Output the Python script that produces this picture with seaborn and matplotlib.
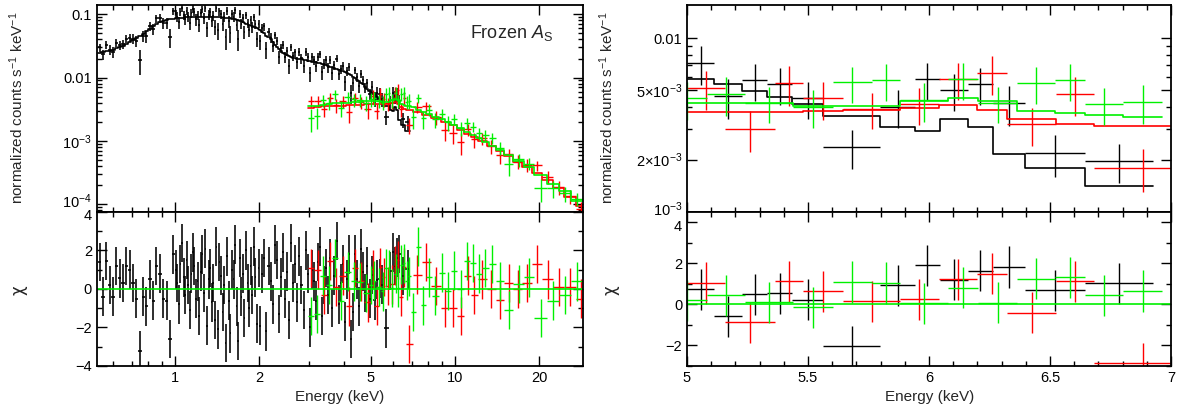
"""
Broad-band spectrum with residuals (left) and a 5-7 keV zoom (right).
"""

import numpy as np
import matplotlib
matplotlib.use('Agg')
import matplotlib.pyplot as plt
import matplotlib.ticker as mticker
import matplotlib.transforms as mtrans
import seaborn as sns

sns.set_theme(style='ticks')
plt.rcParams['font.family'] = ['Liberation Sans', 'DejaVu Sans']
plt.rcParams['mathtext.fontset'] = 'custom'
plt.rcParams['mathtext.rm'] = 'Liberation Sans'
plt.rcParams['mathtext.it'] = 'Liberation Sans:italic'
plt.rcParams['axes.linewidth'] = 1.1

BLACK, RED, GREEN = '#000000', '#ff0000', '#00f000'

# ─────────────────────────────────────────────
# DATA
# ─────────────────────────────────────────────

# black spectrum below 5 keV: bin edges (keV), model (counts/s/keV), chi
black_lo_edges = [
    0.530, 0.545, 0.560, 0.576, 0.592, 0.608, 0.625, 0.643, 0.661, 0.679, 0.698, 0.718,
    0.738, 0.759, 0.780, 0.801, 0.824, 0.847, 0.870, 0.895, 0.920, 0.946, 0.972, 1.000,
    1.013, 1.026, 1.039, 1.053, 1.066, 1.080, 1.094, 1.108, 1.122, 1.137, 1.151, 1.166,
    1.181, 1.197, 1.212, 1.228, 1.244, 1.260, 1.276, 1.292, 1.309, 1.326, 1.343, 1.361,
    1.378, 1.396, 1.414, 1.432, 1.451, 1.470, 1.489, 1.508, 1.527, 1.547, 1.567, 1.587,
    1.608, 1.629, 1.650, 1.671, 1.693, 1.715, 1.737, 1.759, 1.782, 1.805, 1.828, 1.852,
    1.876, 1.900, 1.925, 1.950, 1.975, 2.000,
    2.034, 2.069, 2.104, 2.140, 2.177, 2.214, 2.252, 2.290, 2.330, 2.369, 2.410, 2.451,
    2.493, 2.536, 2.579, 2.623, 2.668, 2.714, 2.760, 2.807, 2.855, 2.904, 2.954, 3.004,
    3.056, 3.108, 3.161, 3.215, 3.270, 3.326, 3.383, 3.441, 3.499, 3.559, 3.620, 3.682,
    3.745, 3.809, 3.874, 3.940, 4.008, 4.076, 4.146, 4.217, 4.289, 4.362, 4.437, 4.513,
    4.590, 4.668, 4.748, 4.829, 4.912, 5.000]
black_lo_model = [
    0.024, 0.025, 0.026, 0.0265, 0.027, 0.029, 0.030, 0.032, 0.034, 0.036, 0.039, 0.042,
    0.045, 0.049, 0.054, 0.059, 0.065, 0.071, 0.076, 0.079, 0.081, 0.083, 0.085,
    0.086, 0.0865, 0.087, 0.0875, 0.088, 0.0885, 0.089, 0.089, 0.0895, 0.090,
    0.090, 0.0905, 0.0905, 0.091, 0.091, 0.091, 0.091, 0.091, 0.091, 0.091,
    0.091, 0.0905, 0.0905, 0.090, 0.090, 0.090, 0.0895, 0.0895, 0.089, 0.089,
    0.0885, 0.088, 0.0875, 0.087, 0.0865, 0.086, 0.085, 0.084, 0.083, 0.082,
    0.080, 0.079, 0.077, 0.075, 0.073, 0.071, 0.069, 0.068, 0.067, 0.066,
    0.064, 0.063, 0.061, 0.059,
    0.057, 0.053, 0.050, 0.046, 0.043, 0.040, 0.037, 0.033, 0.030, 0.028,
    0.026, 0.0245, 0.0232, 0.0224, 0.0217, 0.0212, 0.0207, 0.0203, 0.0200, 0.0197,
    0.0194, 0.0191, 0.0188, 0.0185, 0.0182, 0.0179, 0.0176, 0.0173, 0.0170, 0.0167,
    0.0164, 0.0160, 0.0157, 0.0153, 0.0149, 0.0145, 0.0141, 0.0137, 0.0133, 0.0129,
    0.0125, 0.0121, 0.0117, 0.0112, 0.0108, 0.0103, 0.0098, 0.0093, 0.0088, 0.0083,
    0.0078, 0.0072, 0.0067, 0.0061]
black_lo_chi = [
    1.4, -0.4, 1.45, 0.2, -0.4, 1.2, 0.55, 0.3, 1.2, 1.0, 0.3, -0.5, -3.2, -0.4, -0.9, 0.5,
    -0.6, 1.2, 0.8, -0.5, -0.6, -2.6, 1.8,
    1.0, 0.3, -0.8, 1.3, 2.4, 0.6, -0.3, 1.5, 0.2, -1.1,
    0.8, 1.9, 1.2, -0.5, 0.4, -1.4, 0.9, 1.8, -0.2, 2.1,
    -1.9, 0.5, 1.1, -0.7, 0.3, -1.6, 2.2, -2.1, 1.4, 0.7,
    -1.2, 0.2, -2.8, 1.7, -0.6, -2.3, 1.0, 0.5, 2.3, -0.9,
    -2.7, 1.6, -0.4, 0.8, -1.5, 2.0, 0.3, -1.0, 1.2, -0.3,
    2.2, 0.6, -1.8, 1.1,
    -1.9, 0.8, 1.6, -2.2, 1.2, 0.4, -0.8, 2.3, 1.5, -1.3,
    0.6, 1.9, -0.5, 0.9, -1.6, 2.4, 0.3, 1.3, -0.7, 1.7,
    0.2, -1.1, 2.0, 0.8, -2.0, 1.0, 0.4, -0.6, 1.4, 2.2,
    -1.4, 0.2, 1.1, -0.3, 1.6, -1.0, 0.7, 2.5, -0.8, 0.3,
    1.3, -1.7, 0.5, 1.8, -2.6, -1.2, 1.8, 0.5, -0.9, 2.1,
    0.9, -0.2, 1.2, -0.5]

# black spectrum, iron band 5-7 keV
fe_black_edges = [5.000, 5.112, 5.227, 5.331, 5.434, 5.562, 5.798, 5.942, 6.045, 6.161,
                  6.264, 6.397, 6.645, 6.926]
fe_black_flux = [0.00716, 0.00464, 0.00574, 0.00542, 0.00452, 0.00236, 0.00403, 0.00579,
                 0.00502, 0.00542, 0.00423, 0.00219, 0.00197]
fe_black_err = [0.0018, 0.0012, 0.0014, 0.0013, 0.0011, 0.0006, 0.0010, 0.0014, 0.0012,
                0.0013, 0.0011, 0.0006, 0.0005]
fe_black_model = [0.00579, 0.00542, 0.00498, 0.00460, 0.00418, 0.00356, 0.00307, 0.00293,
                  0.00342, 0.00307, 0.00215, 0.00178, 0.00141]
fe_black_chi = [0.73, -0.59, 0.49, 0.54, 0.22, -2.05, 0.93, 1.9, 1.2, 1.63, 1.82, 0.68, 1.02]

# red spectrum
red_lo_edges = [2.98, 3.15, 3.32, 3.50, 3.68, 3.87, 4.07, 4.29, 4.51, 4.75, 5.00]
red_lo_model = [0.0033, 0.0034, 0.0035, 0.0035, 0.0036, 0.0036, 0.0037, 0.0037, 0.0037, 0.0038]
red_lo_chi = [1.1, 1.0, -0.3, 1.45, 0.1, 0.7, -0.9, 1.1, 0.4, -0.7]
fe_red_edges = [5.000, 5.157, 5.364, 5.479, 5.645, 5.880, 6.041, 6.198, 6.322, 6.525,
                6.682, 7.087]
fe_red_flux = [0.00514, 0.00300, 0.00549, 0.00450, 0.00391, 0.00418, 0.00579, 0.00632,
               0.00319, 0.00477, 0.00180]
fe_red_err = [0.0013, 0.0008, 0.0014, 0.0011, 0.0009, 0.0010, 0.0014, 0.0016, 0.0008,
              0.0012, 0.0005]
fe_red_model = [0.00376, 0.00376, 0.00378, 0.00381, 0.00386, 0.00394, 0.00412, 0.00386,
                0.00341, 0.00321, 0.00312]
fe_red_chi = [1.04, -0.87, 1.12, 0.63, 0.16, 0.24, 1.22, 1.5, -0.4, 1.12, -2.86]
red_hi_edges = [7.087, 7.6, 8.2, 8.9, 9.5, 10.2, 10.8, 11.4, 12.1, 13.0, 14.0, 15.0, 16.2,
                17.4, 18.8, 20.5, 22.5, 24.6, 27.0, 29.5]
red_hi_model = [0.0029, 0.0026, 0.0023, 0.0020, 0.0018, 0.0015, 0.0013, 0.00115, 0.00098,
                0.00082, 0.00069, 0.00057, 0.00047, 0.00039, 0.00031, 0.00024, 0.00018,
                0.00013, 0.000095]
red_hi_chi = [0.75, 1.4, 0.15, -1.0, -1.0, -1.4, 0.7, -0.3, 0.5, 0.0, -0.55, 0.3, 0.0, 0.3,
              1.3, 0.5, 0.1, 0.1, -0.5]

# green spectrum
green_lo_edges = [2.98, 3.13, 3.29, 3.46, 3.64, 3.83, 4.03, 4.24, 4.45, 4.68, 4.917]
green_lo_model = [0.0035, 0.0036, 0.0037, 0.0038, 0.0039, 0.0039, 0.0040, 0.0041, 0.0041, 0.0042]
green_lo_chi = [-1.4, -1.3, 0.7, 0.2, 1.6, -0.6, 0.9, 0.4, 0.35, -0.2]
fe_green_edges = [4.917, 5.083, 5.240, 5.438, 5.603, 5.764, 5.880, 6.079, 6.202, 6.364,
                  6.521, 6.645, 6.802, 6.963]
fe_green_flux = [0.00450, 0.00475, 0.00425, 0.00403, 0.00556, 0.00574, 0.00440, 0.00579,
                 0.00425, 0.00549, 0.00574, 0.00416, 0.00430]
fe_green_err = [0.0011, 0.0012, 0.0010, 0.0010, 0.0013, 0.0014, 0.0011, 0.0014, 0.0010,
                0.0013, 0.0014, 0.0010, 0.0011]
fe_green_model = [0.00423, 0.00423, 0.00423, 0.00407, 0.00407, 0.00407, 0.00436, 0.00450,
                  0.00434, 0.00382, 0.00369, 0.00361, 0.00350]
fe_green_chi = [0.2, 0.44, 0.1, -0.13, 1.09, 1.04, 0.05, 0.8, 0.07, 1.26, 1.33, 0.44, 0.65]
green_hi_edges = [6.963, 7.25, 7.55, 7.9, 8.3, 8.75, 9.2, 9.7, 10.2, 10.75, 11.3, 11.9,
                  12.5, 13.2, 14.0, 15.0, 16.2, 17.6, 19.2, 21.3, 23.5, 26.0, 28.8]
green_hi_model = [0.0034, 0.0031, 0.0029, 0.0027, 0.0024, 0.0022, 0.0020, 0.0018, 0.0016,
                  0.0014, 0.00125, 0.0011, 0.00097, 0.00084, 0.00071, 0.00059, 0.00048,
                  0.00038, 0.00029, 0.00021, 0.00016, 0.00011]
green_hi_chi = [-1.2, 2.2, -0.85, 0.6, -0.35, 0.85, -0.1, 0.95, 0.0, 1.45, 1.35, 0.8, 1.1,
                1.3, 0.4, -1.1, 0.25, 0.6, -1.5, -0.6, -0.3, 0.4]

# relative 1-sigma error of the broad-band points
BLACK_FRAC, RG_FRAC = 0.18, 0.25


def from_residuals(model, chi, frac):
    # chi = (data - model) / sigma  ->  data = model + chi * sigma
    model = np.asarray(model, float)
    sigma = frac * model
    return model + np.asarray(chi) * sigma, sigma


def join(*parts):
    out = list(parts[0])
    for p in parts[1:]:
        out += list(p)
    return np.asarray(out, float)


def draw(ax_top, ax_bot, edges, flux, err, model, chi, color, elw=1.0):
    edges = np.asarray(edges, float)
    mid = 0.5 * (edges[:-1] + edges[1:])
    half = 0.5 * (edges[1:] - edges[:-1])
    ax_top.errorbar(mid, flux, xerr=half, yerr=err, fmt='none', ecolor=color,
                    elinewidth=elw, capsize=0)
    sns.lineplot(x=edges, y=np.append(model, model[-1]), drawstyle='steps-post',
                 color=color, lw=1.2, ax=ax_top, errorbar=None, legend=False, sort=False)
    ax_bot.errorbar(mid, chi, xerr=half, yerr=np.ones(len(mid)), fmt='none',
                    ecolor=color, elinewidth=elw, capsize=0)


# broad-band series
b_flux_lo, b_err_lo = from_residuals(black_lo_model, black_lo_chi, BLACK_FRAC)
r_flux_lo, r_err_lo = from_residuals(red_lo_model, red_lo_chi, RG_FRAC)
r_flux_hi, r_err_hi = from_residuals(red_hi_model, red_hi_chi, RG_FRAC)
g_flux_lo, g_err_lo = from_residuals(green_lo_model, green_lo_chi, RG_FRAC)
g_flux_hi, g_err_hi = from_residuals(green_hi_model, green_hi_chi, RG_FRAC)

black = dict(edges=join(black_lo_edges, fe_black_edges[1:]),
             flux=join(b_flux_lo, fe_black_flux), err=join(b_err_lo, fe_black_err),
             model=join(black_lo_model, fe_black_model), chi=join(black_lo_chi, fe_black_chi))
red = dict(edges=join(red_lo_edges, fe_red_edges[1:], red_hi_edges[1:]),
           flux=join(r_flux_lo, fe_red_flux, r_flux_hi), err=join(r_err_lo, fe_red_err, r_err_hi),
           model=join(red_lo_model, fe_red_model, red_hi_model),
           chi=join(red_lo_chi, fe_red_chi, red_hi_chi))
green = dict(edges=join(green_lo_edges, fe_green_edges[1:], green_hi_edges[1:]),
             flux=join(g_flux_lo, fe_green_flux, g_flux_hi),
             err=join(g_err_lo, fe_green_err, g_err_hi),
             model=join(green_lo_model, fe_green_model, green_hi_model),
             chi=join(green_lo_chi, fe_green_chi, green_hi_chi))

# ─────────────────────────────────────────────
# FIGURE
# ─────────────────────────────────────────────

fig = plt.figure(figsize=(11.78, 4.12), dpi=100)
ax_spec = fig.add_axes([0.0823, 0.4854, 0.4126, 0.5024])
ax_res = fig.add_axes([0.0823, 0.1117, 0.4126, 0.3738])
ax_zspec = fig.add_axes([0.5832, 0.4854, 0.4109, 0.5024])
ax_zres = fig.add_axes([0.5832, 0.1117, 0.4109, 0.3738])

draw(ax_spec, ax_res, black['edges'], black['flux'], black['err'], black['model'],
     black['chi'], BLACK, elw=1.15)
for d, c in [(red, RED), (green, GREEN)]:
    draw(ax_spec, ax_res, d['edges'], d['flux'], d['err'], d['model'], d['chi'], c)

for e, f, er, m, ch, c in [
        (fe_black_edges, fe_black_flux, fe_black_err, fe_black_model, fe_black_chi, BLACK),
        (fe_red_edges, fe_red_flux, fe_red_err, fe_red_model, fe_red_chi, RED),
        (fe_green_edges, fe_green_flux, fe_green_err, fe_green_model, fe_green_chi, GREEN)]:
    draw(ax_zspec, ax_zres, e, f, er, m, ch, c)

ax_res.axhline(0, color=GREEN, lw=1.2)
ax_zres.axhline(0, color=GREEN, lw=1.2)

# left panel scales
for ax in (ax_spec, ax_res):
    ax.set_xscale('log')
    ax.set_xlim(0.526, 28.7)
    ax.xaxis.set_major_locator(mticker.FixedLocator([1, 2, 5, 10, 20]))
    ax.xaxis.set_major_formatter(mticker.FixedFormatter(['1', '2', '5', '10', '20']))
    ax.xaxis.set_minor_locator(mticker.FixedLocator([0.6, 0.7, 0.8, 0.9, 3, 4, 6, 7, 8, 9]))
    ax.xaxis.set_minor_formatter(mticker.NullFormatter())

ax_spec.set_yscale('log')
ax_spec.set_ylim(7.5e-5, 0.14)
ax_spec.yaxis.set_major_locator(mticker.FixedLocator([1e-4, 1e-3, 1e-2, 0.1]))
ax_spec.yaxis.set_major_formatter(mticker.FixedFormatter(
    [r'$10^{-4}$', r'$10^{-3}$', '0.01', '0.1']))
ax_spec.yaxis.set_minor_locator(mticker.LogLocator(base=10, subs=np.arange(2, 10)))
ax_spec.yaxis.set_minor_formatter(mticker.NullFormatter())

ax_res.set_ylim(-4, 4)
ax_res.yaxis.set_major_locator(mticker.FixedLocator([-4, -2, 0, 2, 4]))
ax_res.yaxis.set_minor_locator(mticker.FixedLocator([-3, -1, 1, 3]))

# right panel scales
for ax in (ax_zspec, ax_zres):
    ax.set_xlim(5, 7)
    ax.xaxis.set_major_locator(mticker.FixedLocator([5, 5.5, 6, 6.5, 7]))
    ax.xaxis.set_major_formatter(mticker.FixedFormatter(['5', '5.5', '6', '6.5', '7']))
    ax.xaxis.set_minor_locator(mticker.MultipleLocator(0.1))

ax_zspec.set_yscale('log')
ax_zspec.set_ylim(1e-3, 0.0155)
ax_zspec.yaxis.set_major_locator(mticker.FixedLocator([1e-3, 2e-3, 5e-3, 1e-2]))
ax_zspec.yaxis.set_major_formatter(mticker.FixedFormatter(
    [r'$10^{-3}$', r'$2{\times}10^{-3}$', r'$5{\times}10^{-3}$', '0.01']))
ax_zspec.yaxis.set_minor_locator(mticker.FixedLocator([3e-3, 4e-3, 6e-3, 7e-3, 8e-3, 9e-3]))
ax_zspec.yaxis.set_minor_formatter(mticker.NullFormatter())

ax_zres.set_ylim(-3, 4.5)
ax_zres.yaxis.set_major_locator(mticker.FixedLocator([-2, 0, 2, 4]))
ax_zres.yaxis.set_minor_locator(mticker.FixedLocator([-3, -1, 1, 3]))

for ax in (ax_spec, ax_res, ax_zspec, ax_zres):
    ax.tick_params(which='both', direction='in', top=True, right=True, width=1.0,
                   colors='black', labelsize=10.5)
    ax.tick_params(which='major', length=7)
    ax.tick_params(which='minor', length=3.5)
    ax.set_xlabel('')
    ax.set_ylabel('')
    for s in ax.spines.values():
        s.set_color('black')
        s.set_linewidth(1.3)

for ax in (ax_spec, ax_zspec):
    ax.tick_params(labelbottom=False)

# keep the labels at the panel joint apart
fig.canvas.draw()
up = mtrans.ScaledTranslation(0, 4 / 100, fig.dpi_scale_trans)
down = mtrans.ScaledTranslation(0, -3 / 100, fig.dpi_scale_trans)
for ax, shift, idx in [(ax_spec, up, 0), (ax_zspec, up, 0), (ax_res, down, -1), (ax_zres, down, -1)]:
    lab = ax.yaxis.get_majorticklabels()[idx]
    lab.set_transform(lab.get_transform() + shift)

# labels
ylab = 'normalized counts s$^{-1}$ keV$^{-1}$'
fig.text(17 / 1178, 1 - 108 / 412, ylab, rotation=90, ha='center', va='center', fontsize=11)
fig.text(607 / 1178, 1 - 108 / 412, ylab, rotation=90, ha='center', va='center', fontsize=11)
fig.text(19 / 1178, 1 - 290 / 412, 'χ', rotation=90, ha='center', va='center',
         fontsize=12, family='DejaVu Sans')
fig.text(610 / 1178, 1 - 290 / 412, 'χ', rotation=90, ha='center', va='center',
         fontsize=12, family='DejaVu Sans')
fig.text(340 / 1178, 1 - 397 / 412, 'Energy (keV)', ha='center', va='center', fontsize=11)
fig.text(930 / 1178, 1 - 397 / 412, 'Energy (keV)', ha='center', va='center', fontsize=11)
fig.text(470 / 1178, 1 - 33 / 412, r'Frozen $A_{\mathrm{S}}$', ha='left', va='center',
         fontsize=13)

plt.savefig('out.png', dpi=100)
plt.close()
